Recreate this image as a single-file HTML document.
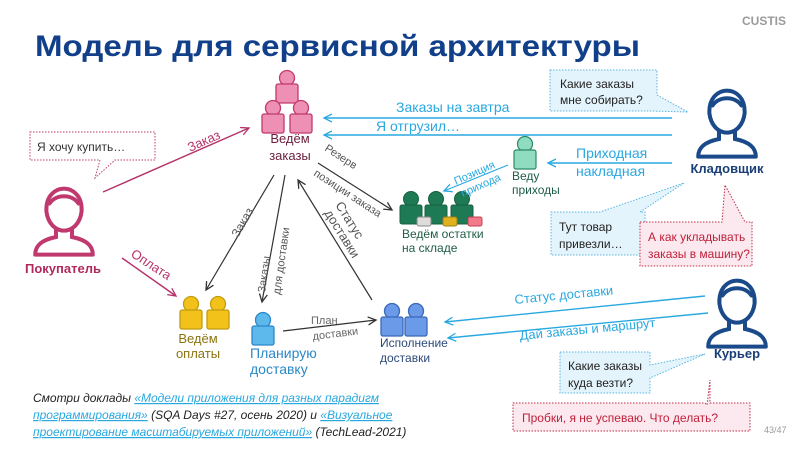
<!DOCTYPE html>
<html><head><meta charset="utf-8"><style>
body{margin:0;background:#fff}
svg{display:block;font-family:"Liberation Sans",sans-serif}
</style></head><body>
<svg width="800" height="450" viewBox="0 0 800 450" xmlns="http://www.w3.org/2000/svg">
<defs>
<marker id="ab" markerWidth="10" markerHeight="10" refX="8" refY="5" orient="auto" markerUnits="userSpaceOnUse"><path d="M0,1 L8,5 L0,9" fill="none" stroke="#333" stroke-width="1.3"/></marker>
<marker id="ac" markerWidth="10" markerHeight="10" refX="8" refY="5" orient="auto" markerUnits="userSpaceOnUse"><path d="M0,1 L8,5 L0,9" fill="none" stroke="#29a8e0" stroke-width="1.3"/></marker>
<marker id="ap" markerWidth="10" markerHeight="10" refX="8" refY="5" orient="auto" markerUnits="userSpaceOnUse"><path d="M0,1 L8,5 L0,9" fill="none" stroke="#b5336a" stroke-width="1.3"/></marker>
<g id="pp"><circle cx="0" cy="0" r="7.5"/><rect x="-11" y="6" width="22" height="19" rx="2"/></g>
<g id="ico" fill="none" stroke-width="5" stroke-linecap="round"><path d="M-22,8 C-24,-30 24,-30 22,8 C20,24 10,32 0,32 C-10,32 -20,24 -22,8 Z"/><path d="M-18,-2 C-10,-14 10,-14 18,-2"/><path d="M-10,30 L-10,40 C-30,44 -36,52 -36,62 M10,30 L10,40 C30,44 36,52 36,62 M-36,62 L36,62"/></g>
</defs>
<text x="742" y="25" font-size="12" font-weight="bold" fill="#9a9a9a">CUSTIS</text>
<text x="35" y="56" font-size="30" font-weight="bold" fill="#123f8a" textLength="605" lengthAdjust="spacingAndGlyphs">Модель для сервисной архитектуры</text>

<!-- pink group -->
<g fill="#ee8fb4" stroke="#c0396e" stroke-width="1.3">
<use href="#pp" x="287" y="78"/><use href="#pp" x="273" y="108"/><use href="#pp" x="301" y="108"/></g>
<text x="290" y="143" font-size="13" fill="#6b1f3c" text-anchor="middle">Ведём</text>
<text x="290" y="160" font-size="13" fill="#6b1f3c" text-anchor="middle">заказы</text>

<!-- buyer -->
<use href="#ico" transform="translate(64,205) scale(0.8)" stroke="#c0396e"/>
<text x="63" y="273" font-size="13" font-weight="bold" fill="#b02a5e" text-anchor="middle">Покупатель</text>
<path d="M30,132 H155 V160 H115 L95,178 L100,160 H30 Z" fill="#fff" stroke="#c0396e" stroke-dasharray="1.5,1.5" stroke-width="1"/>
<text x="37" y="151" font-size="12" fill="#333">Я хочу купить…</text>

<line x1="103" y1="192" x2="249" y2="128" stroke="#b5336a" stroke-width="1.5" marker-end="url(#ap)"/>
<text x="190" y="152" font-size="13" fill="#b5336a" transform="rotate(-24 190 152)">Заказ</text>
<line x1="122" y1="258" x2="176" y2="296" stroke="#b5336a" stroke-width="1.5" marker-end="url(#ap)"/>
<text x="130" y="256" font-size="13" fill="#b5336a" transform="rotate(33 130 256)">Оплата</text>

<!-- yellow -->
<g fill="#f3c21a" stroke="#c29b10" stroke-width="1.3"><use href="#pp" x="191" y="304"/><use href="#pp" x="218" y="304"/></g>
<text x="198" y="343" font-size="13" fill="#8a7410" text-anchor="middle">Ведём</text>
<text x="198" y="358" font-size="13" fill="#8a7410" text-anchor="middle">оплаты</text>

<!-- planning -->
<g fill="#5db8ec" stroke="#2a88c8" stroke-width="1.3"><use href="#pp" x="263" y="320" /></g>
<text x="250" y="358" font-size="14" fill="#2a88c8">Планирую</text>
<text x="250" y="374" font-size="14" fill="#2a88c8">доставку</text>

<!-- execution -->
<g fill="#6b9ae8" stroke="#3a68b8" stroke-width="1.3"><use href="#pp" x="392" y="311"/><use href="#pp" x="416" y="311"/></g>
<text x="380" y="347" font-size="12" fill="#2c4a7a">Исполнение</text>
<text x="380" y="362" font-size="12" fill="#2c4a7a">доставки</text>

<!-- dark arrows -->
<line x1="274" y1="175" x2="206" y2="290" stroke="#333" stroke-width="1.2" marker-end="url(#ab)"/>
<text x="238" y="238" font-size="12" fill="#555" transform="rotate(-60 238 238)">Заказ</text>
<line x1="285" y1="175" x2="262" y2="302" stroke="#333" stroke-width="1.2" marker-end="url(#ab)"/>
<text x="265" y="293" font-size="11" fill="#555" transform="rotate(-82 265 293)">Заказы</text>
<text x="280" y="295" font-size="11" fill="#555" transform="rotate(-82 280 295)">для доставки</text>
<line x1="372" y1="300" x2="298" y2="180" stroke="#333" stroke-width="1.2" marker-end="url(#ab)"/>
<text x="335" y="205" font-size="13" fill="#555" transform="rotate(58 335 205)">Статус</text>
<text x="324" y="213" font-size="13" fill="#555" transform="rotate(58 324 213)">доставки</text>
<line x1="318" y1="163" x2="392" y2="210" stroke="#333" stroke-width="1.2" marker-end="url(#ab)"/>
<text x="324" y="150" font-size="11" fill="#555" transform="rotate(33 324 150)">Резерв</text>
<text x="313" y="175" font-size="11" fill="#555" transform="rotate(33 313 175)">позиции заказа</text>
<line x1="283" y1="331" x2="376" y2="320" stroke="#333" stroke-width="1.2" marker-end="url(#ab)"/>
<text x="311" y="324" font-size="11" fill="#666">План</text>
<text x="313" y="340" font-size="11" fill="#666" transform="rotate(-7 313 340)">доставки</text>

<!-- warehouse -->
<g fill="#1e7a55" stroke="#15603f" stroke-width="1"><use href="#pp" x="411" y="199"/><use href="#pp" x="436" y="199"/><use href="#pp" x="462" y="199"/></g>
<rect x="417" y="217" width="14" height="9" rx="2" fill="#ddd" stroke="#888"/>
<rect x="443" y="217" width="14" height="9" rx="2" fill="#e0b020" stroke="#a08010"/>
<rect x="468" y="217" width="14" height="9" rx="2" fill="#f27a8a" stroke="#c04050"/>
<text x="402" y="238" font-size="12" fill="#1e5e45">Ведём остатки</text>
<text x="402" y="252" font-size="12" fill="#1e5e45">на складе</text>

<g fill="#8fdcc0" stroke="#2a8a66" stroke-width="1.2"><use href="#pp" x="525" y="144"/></g>
<text x="512" y="180" font-size="12" fill="#1e5e45">Веду</text>
<text x="512" y="194" font-size="12" fill="#1e5e45">приходы</text>
<line x1="508" y1="165" x2="444" y2="191" stroke="#29a8e0" stroke-width="1.2" marker-end="url(#ac)"/>
<text x="456" y="185" font-size="11" fill="#29a8e0" transform="rotate(-24 456 185)">Позиция</text>
<text x="463" y="197" font-size="11" fill="#29a8e0" transform="rotate(-24 463 197)">прихода</text>

<!-- blue arrows from storekeeper -->
<line x1="672" y1="118" x2="324" y2="118" stroke="#29a8e0" stroke-width="1.4" marker-end="url(#ac)"/>
<text x="396" y="112" font-size="14" fill="#29a8e0">Заказы на завтра</text>
<line x1="672" y1="135" x2="324" y2="135" stroke="#29a8e0" stroke-width="1.4" marker-end="url(#ac)"/>
<text x="376" y="131" font-size="14" fill="#29a8e0">Я отгрузил…</text>
<line x1="672" y1="163" x2="548" y2="163" stroke="#29a8e0" stroke-width="1.4" marker-end="url(#ac)"/>
<text x="576" y="158" font-size="14" fill="#29a8e0">Приходная</text>
<text x="576" y="176" font-size="14" fill="#29a8e0">накладная</text>

<!-- storekeeper -->
<use href="#ico" transform="translate(727,107) scale(0.8)" stroke="#1a4a8a"/>
<text x="727" y="173" font-size="13" font-weight="bold" fill="#1a3f78" text-anchor="middle">Кладовщик</text>
<path d="M550,70 H657 V95 L688,112 L650,111 H550 Z" fill="#e4f4fc" stroke="#5bb5e0" stroke-dasharray="1.5,1.5"/>
<text x="560" y="88" font-size="12" fill="#222">Какие заказы</text>
<text x="560" y="104" font-size="12" fill="#222">мне собирать?</text>
<path d="M551,212 H600 L684,183 L640,212 H645 V255 H551 Z" fill="#e4f4fc" stroke="#5bb5e0" stroke-dasharray="1.5,1.5"/>
<text x="559" y="231" font-size="12" fill="#222">Тут товар</text>
<text x="559" y="248" font-size="12" fill="#222">привезли…</text>
<path d="M640,222 H722 L725,185 L745,222 H752 V266 H640 Z" fill="#fbe9ef" stroke="#c0304a" stroke-dasharray="1.5,1.5"/>
<text x="648" y="241" font-size="12" fill="#c0203a">А как укладывать</text>
<text x="648" y="258" font-size="12" fill="#c0203a">заказы в машину?</text>

<!-- courier -->
<use href="#ico" transform="translate(737,297) scale(0.8)" stroke="#1a4a8a"/>
<text x="737" y="358" font-size="13" font-weight="bold" fill="#1a3f78" text-anchor="middle">Курьер</text>
<line x1="705" y1="296" x2="445" y2="322" stroke="#29a8e0" stroke-width="1.4" marker-end="url(#ac)"/>
<text x="515" y="304" font-size="13" fill="#29a8e0" transform="rotate(-5.5 515 304)">Статус доставки</text>
<line x1="708" y1="313" x2="448" y2="338" stroke="#29a8e0" stroke-width="1.4" marker-end="url(#ac)"/>
<text x="520" y="340" font-size="13" fill="#29a8e0" transform="rotate(-5.5 520 340)">Дай заказы и маршрут</text>
<path d="M560,352 H650 V365 L705,354 L650,378 V393 H560 Z" fill="#e4f4fc" stroke="#5bb5e0" stroke-dasharray="1.5,1.5"/>
<text x="568" y="370" font-size="12" fill="#222">Какие заказы</text>
<text x="568" y="387" font-size="12" fill="#222">куда везти?</text>
<path d="M513,403 H640 L705,403 L707,405 L710,380 L710,403 H750 V431 H513 Z" fill="#fbe9ef" stroke="#c0304a" stroke-dasharray="1.5,1.5"/>
<text x="522" y="422" font-size="12" fill="#c0203a">Пробки, я не успеваю. Что делать?</text>
<text x="764" y="433" font-size="9" fill="#999">43/47</text>

<!-- footer -->
<g font-size="12" font-style="italic" fill="#222">
<text x="33" y="402">Смотри доклады <tspan fill="#29a8e0" text-decoration="underline">«Модели приложения для разных парадигм</tspan></text>
<text x="33" y="419"><tspan fill="#29a8e0" text-decoration="underline">программирования»</tspan>  (SQA Days #27, осень 2020) и <tspan fill="#29a8e0" text-decoration="underline">«Визуальное</tspan></text>
<text x="33" y="436"><tspan fill="#29a8e0" text-decoration="underline">проектирование масштабируемых приложений»</tspan> (TechLead-2021)</text>
</g>
</svg>
</body></html>
